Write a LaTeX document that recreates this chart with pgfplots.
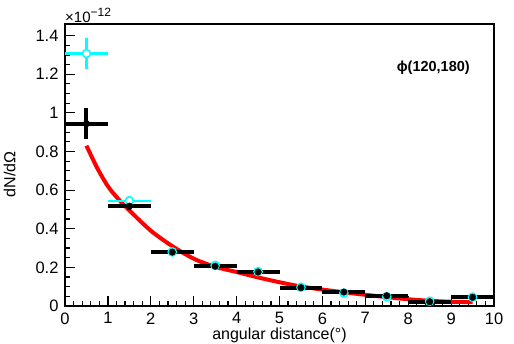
\documentclass[border=0pt]{standalone}
\usepackage{fontspec}
\setmainfont{Liberation Sans}
\usepackage{pgfplots}
\pgfplotsset{compat=1.18}
\definecolor{rcyan}{RGB}{0,255,255}
\definecolor{rred}{RGB}{255,0,0}
\begin{document}
\fontsize{16}{18}\selectfont
\begin{tikzpicture}
\begin{axis}[
  at={(0,0)}, anchor=south west,
  scale only axis, width=429pt, height=282pt,
  xmin=0, xmax=10, ymin=0, ymax=1.46,
  xtick={0,1,...,10}, ytick={0,0.2,...,1.4},
  minor x tick num=4, minor y tick num=3,
  tick align=inside, xtick pos=bottom, ytick pos=left,
  axis line style={line width=1.6pt},
  every tick/.style={black, line width=1.2pt},
  major tick length=10pt, minor tick length=5pt,
  /pgf/number format/assume math mode=true,
  ticklabel style={font=\fontsize{16.5}{18}\selectfont},
  xticklabel style={yshift=-1pt},
  yticklabel style={xshift=-1pt},
  xlabel={angular distance(°)},
  ylabel={dN/dΩ},
  xlabel style={font=\fontsize{16}{18}\selectfont, at={(rel axis cs:0.5,0)}, anchor=north, yshift=-16pt},
  ylabel style={font=\fontsize{16}{18}\selectfont, at={(rel axis cs:0,0.467)}, anchor=south, yshift=44pt},
  clip=false,
]
% red fit curve
\addplot[rred, line width=4pt, smooth, tension=0.5] coordinates {
(0.5,0.83) (0.75,0.715) (1.0,0.62) (1.25,0.552) (1.5,0.495) (2.0,0.39) (2.5,0.31) (3.0,0.245) (3.5,0.203) (4.0,0.176) (4.5,0.148) (5.0,0.123) (5.5,0.101) (6.0,0.085) (6.5,0.071) (7.0,0.058) (7.5,0.046) (8.0,0.035) (8.5,0.027) (9.0,0.022) (9.5,0.02)
};
% cyan series
\addplot[rcyan, line width=2pt, only marks, mark=*, mark size=4pt,
  mark options={fill=white, draw=rcyan, line width=1.6pt},
  error bars/.cd, x dir=both, x explicit, y dir=both, y explicit,
  error mark=none, error bar style={rcyan, line width=2.2pt}]
coordinates {
(0.5,1.307) +- (0.5,0.08)
(1.5,0.545) +- (0.5,0.025)
(2.5,0.28) +- (0.5,0.01)
(3.5,0.21) +- (0.5,0.008)
(4.5,0.178) +- (0.5,0.008)
(5.5,0.097) +- (0.5,0.006)
(6.5,0.067) +- (0.5,0.005)
(7.5,0.048) +- (0.5,0.004)
(8.5,0.025) +- (0.5,0.004)
(9.5,0.046) +- (0.5,0.004)
};
% black series
\addplot[black, only marks, mark=*, mark size=3.3pt,
  error bars/.cd, x dir=both, x explicit, y dir=both, y explicit,
  error mark=none, error bar style={black, line width=4pt}]
coordinates {
(0.5,0.944) +- (0.5,0.08)
(1.5,0.517) +- (0.5,0.02)
(2.5,0.279) +- (0.5,0.008)
(3.5,0.206) +- (0.5,0.006)
(4.5,0.176) +- (0.5,0.006)
(5.5,0.095) +- (0.5,0.005)
(6.5,0.072) +- (0.5,0.004)
(7.5,0.053) +- (0.5,0.004)
(8.5,0.022) +- (0.5,0.003)
(9.5,0.045) +- (0.5,0.003)
};
\node[anchor=west, font=\fontsize{14.5}{16}\selectfont\bfseries, inner sep=0pt] at (axis cs:7.73,1.234) {ϕ(120,180)};
\node[anchor=south west, font=\fontsize{15}{16}\selectfont, inner sep=0pt] at (rel axis cs:0,1) [yshift=1pt] {×10\raisebox{6pt}{\fontsize{12}{12}\selectfont −12}};
\end{axis}
\pgfresetboundingbox
\path (-65pt,-37pt) rectangle (449pt,306pt);
\end{tikzpicture}
\end{document}
